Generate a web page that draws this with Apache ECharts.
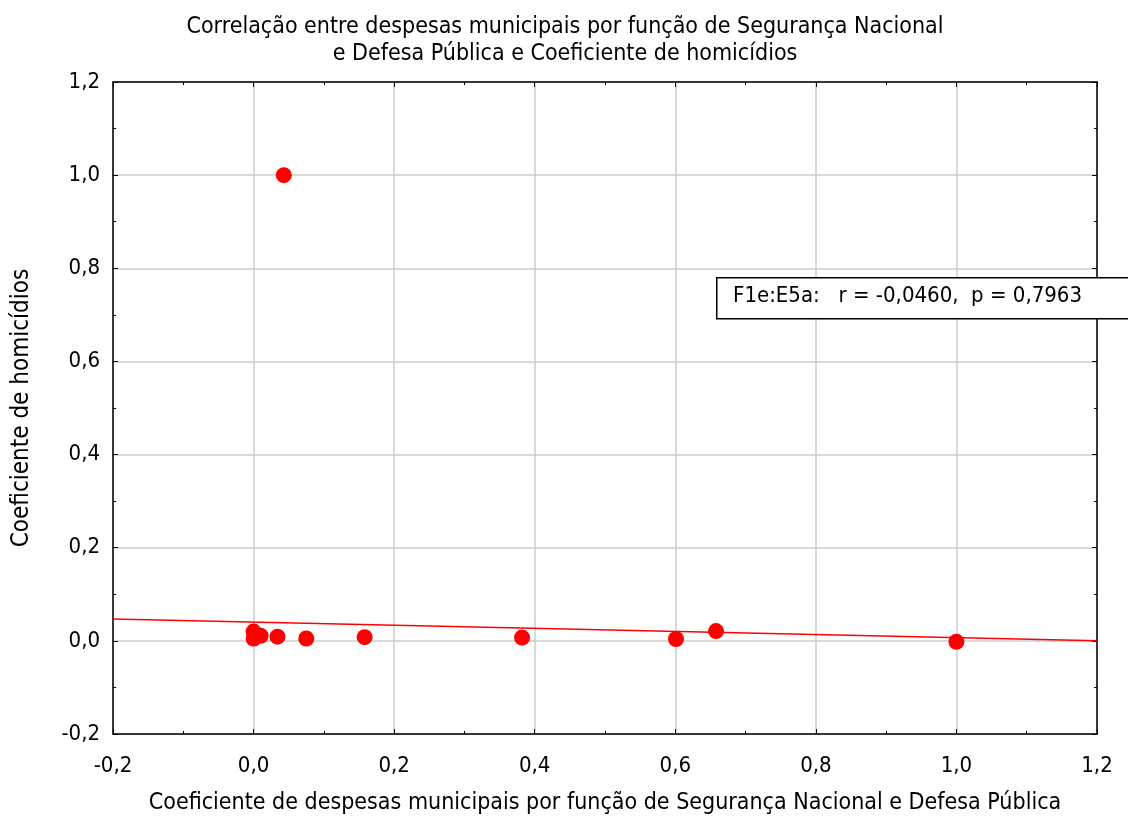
<!DOCTYPE html>
<html>
<head>
<meta charset="utf-8">
<script src="https://cdn.jsdelivr.net/npm/echarts@6/dist/echarts.min.js"></script>
<style>
  html, body { margin: 0; padding: 0; background: #fff; }
  #chart { width: 1128px; height: 819px; }
</style>
</head>
<body>
<div id="chart"></div>
<script>
// scatter points (x = despesas coef., y = homicidios coef.)
const pointsX = [0.000, 0.000, 0.010, 0.004, 0.034, 0.075, 0.158, 0.382, 0.601, 0.658, 1.000, 0.043];
const pointsY = [0.020, 0.005, 0.011, 0.012, 0.009, 0.005, 0.008, 0.007, 0.004, 0.021, -0.002, 1.000];
// fitted line end points
const fitX = [-0.2, 1.2];
const fitY = [0.047, 0.000];

const axisTicks = { min: -0.2, max: 1.2, interval: 0.2 };
const fontFam = "'Liberation Sans Narrow', 'DejaVu Sans Condensed', 'Liberation Sans', sans-serif";
const commaFmt = v => v.toFixed(1).replace('.', ',');

const chart = echarts.init(document.getElementById('chart'), null, { renderer: 'canvas' });

function mkAxis(pos, showLabels, isX) {
    return {
        type: 'value',
        position: pos,
        min: axisTicks.min,
        max: axisTicks.max,
        interval: axisTicks.interval,
        axisLine: { show: true, onZero: false, lineStyle: { color: '#000', width: 1.5 } },
        axisTick: { show: true, inside: true, length: 5, lineStyle: { color: '#000' } },
        minorTick: { show: true, splitNumber: 2, length: 3, lineStyle: { color: '#000' } },
        axisLabel: {
            show: showLabels,
            formatter: commaFmt,
            color: '#000',
            fontFamily: fontFam,
            fontSize: 22,
            margin: isX ? 21 : 13
        },
        splitLine: { show: showLabels, lineStyle: { color: '#cdcdcd', width: 1.5 } }
    };
}

const xAxes = [mkAxis('bottom', true, true), mkAxis('top', false, true)];
const yAxes = [mkAxis('left', true, false), mkAxis('right', false, false)];
xAxes[0].name = 'Coeficiente de despesas municipais por função de Segurança Nacional e Defesa Pública';
xAxes[0].nameLocation = 'middle';
xAxes[0].nameGap = 58;
xAxes[0].nameTextStyle = { color: '#000', fontFamily: fontFam, fontSize: 23 };
yAxes[0].name = 'Coeficiente de homicídios';
yAxes[0].nameLocation = 'middle';
yAxes[0].nameGap = 79;
yAxes[0].nameTextStyle = { color: '#000', fontFamily: fontFam, fontSize: 24 };

chart.setOption({
    backgroundColor: '#fff',
    animation: false,
    title: {
        text: 'Correlação entre despesas municipais por função de Segurança Nacional\ne Defesa Pública e Coeficiente de homicídios',
        left: 560,
        textAlign: 'center',
        top: 9,
        textStyle: { color: '#000', fontFamily: fontFam, fontSize: 23, fontWeight: 'normal', lineHeight: 27 }
    },
    grid: { left: 113, right: 31, top: 82, bottom: 85, containLabel: false, outerBoundsMode: 'none' },
    xAxis: xAxes,
    yAxis: yAxes,
    series: [
        {
            type: 'line',
            data: fitX.map((x, i) => [x, fitY[i]]),
            symbol: 'none',
            lineStyle: { color: '#ff0000', width: 1.5 },
            z: 3
        },
        {
            type: 'scatter',
            data: pointsX.map((x, i) => [x, pointsY[i]]),
            symbol: 'circle',
            symbolSize: 16,
            itemStyle: { color: '#ff0000', opacity: 1 },
            z: 4
        }
    ],
    graphic: [
        {
            type: 'rect',
            left: 716,
            top: 277,
            shape: { width: 420, height: 41 },
            style: { fill: '#fff', stroke: '#000', lineWidth: 1.5 },
            z: 10
        },
        {
            type: 'text',
            left: 733,
            top: 285,
            style: {
                text: 'F1e:E5a:   r = -0,0460,  p = 0,7963',
                fill: '#000',
                font: '22px ' + fontFam
            },
            z: 11
        }
    ]
});
</script>
</body>
</html>
